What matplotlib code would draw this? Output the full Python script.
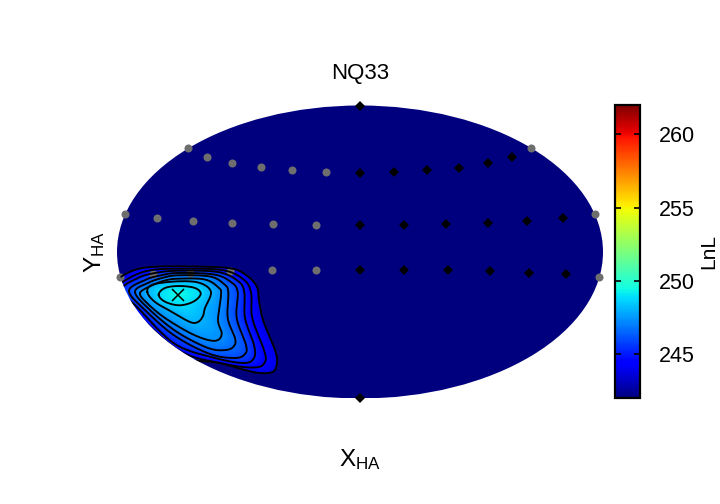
import numpy as np
import matplotlib
matplotlib.use('Agg')
import matplotlib.pyplot as plt
from matplotlib.patches import Ellipse

plt.rcParams['font.family'] = ['Liberation Sans', 'DejaVu Sans']
plt.rcParams['mathtext.default'] = 'regular'

# map extent, in chart units
half_w = 243
half_h = 146.5

# sampled positions
grey_x = [-172, -153, -128.3, -99.3, -68, -34.3, 171.3,
          -235, -203, -167, -128.3, -87, -44, 234.7,
          -239.7, -206.7, -170, -130, -88, -44.3, 239]
grey_y = [103.7, 95.3, 89, 84.7, 81.7, 80, 103.7,
          38, 34, 31.3, 29, 28, 27.3, 38,
          -25, -22.3, -20.7, -19.3, -18.3, -18, -25]
black_x = [0, 34, 67.3, 99, 127.7, 152.3,
           0, 43.7, 86.3, 128, 166.7, 202.7,
           0, 44, 87.7, 129.7, 169.3, 206.3,
           0, 0]
black_y = [79.3, 80, 81.7, 84.3, 89, 95.3,
           27, 27, 28, 29, 31.3, 34,
           -18, -18, -18.3, -19.3, -20.7, -22.3,
           146.3, -146.3]

# best location
best_x = -181.7
best_y = -42.7

# LnL contours, innermost first
levels = [248.8, 248.0, 247.3, 246.6, 245.9, 245.1, 244.4, 243.7]
peak = 249.5
floor = 242
c1 = [(-201.3, -42.7), (-195, -36), (-180.7, -34), (-165, -36), (-159.3, -42), (-166.7, -49.7), (-180.7, -53.3), (-195, -49.7)]
c2 = [(-212.7, -40), (-207, -32.5), (-181, -29.3), (-160, -31), (-149, -40), (-155, -56), (-157, -64), (-162, -70), (-170, -70), (-188, -60), (-205, -50)]
c3 = [(-220, -41), (-207, -33), (-195, -28.5), (-182, -26.7), (-155, -27.5), (-141, -36), (-139, -43), (-142, -68), (-138.3, -81), (-142, -88), (-152, -88), (-170, -81), (-195, -66), (-212, -52)]
c4 = [(-225, -40), (-212, -31), (-198, -26), (-182, -23.3), (-150, -24.5), (-136, -32), (-131.7, -40), (-132.3, -66), (-125, -86), (-126, -94), (-134, -98), (-152, -96), (-183, -80), (-210, -58)]
c5 = [(-231, -39), (-215, -28), (-200, -23.5), (-182, -21), (-146, -22.5), (-129, -30), (-122.3, -40), (-123.3, -66), (-114, -93), (-115, -102), (-125, -106), (-150, -102), (-185, -84), (-215, -58)]
c6 = [(-238, -38), (-222, -26), (-205, -21), (-182, -18.7), (-142, -20), (-122, -29), (-115.7, -40), (-115, -66), (-106, -93), (-106, -106), (-116, -111), (-145, -106), (-185, -92), (-220, -58)]
c7 = [(-245, -38), (-240, -32), (-225, -23), (-208, -18), (-182, -16.7), (-138, -18), (-117, -27), (-109, -40), (-107.7, -66), (-96, -98), (-95, -110), (-105, -115.5), (-135, -112), (-180, -99), (-225, -60)]
c8 = [(-250, -38), (-242, -27), (-228, -19), (-212, -15.3), (-182, -14.3), (-132, -16), (-114, -23), (-103, -35), (-101, -49), (-96.7, -69), (-85, -98), (-83, -111), (-87, -119.7), (-100, -121), (-115, -118), (-140, -111), (-180, -103), (-230, -62)]
contours = [c1, c2, c3, c4, c5, c6, c7, c8]

cbar_ticks = [245, 250, 255, 260]


def smooth(pts, n=14):
    # closed catmull-rom through the read points
    p = np.array(pts, dtype=float)
    t = np.linspace(0, 1, n, endpoint=False)[:, None]
    out = []
    for i in range(len(p)):
        p0, p1, p2, p3 = p[i - 1], p[i], p[(i + 1) % len(p)], p[(i + 2) % len(p)]
        out.append(0.5 * (2 * p1 + (p2 - p0) * t + (2 * p0 - 5 * p1 + 4 * p2 - p3) * t ** 2
                          + (3 * p1 - p0 - 3 * p2 + p3) * t ** 3))
    out = np.vstack(out)
    return np.vstack([out, out[:1]])


lines = [smooth(c) for c in contours]

# build the LnL field from the contours, radially around the peak
gx = np.linspace(-half_w, half_w, 972)
gy = np.linspace(-half_h, half_h, 586)
xx, yy = np.meshgrid(gx, gy)
rr = np.hypot(xx - best_x, yy - best_y)
aa = np.arctan2(yy - best_y, xx - best_x)

radii = [np.zeros_like(rr)]
for ln in lines:
    th = np.arctan2(ln[:, 1] - best_y, ln[:, 0] - best_x)
    r = np.hypot(ln[:, 0] - best_x, ln[:, 1] - best_y)
    order = np.argsort(th)
    radii.append(np.interp(aa, th[order], r[order], period=2 * np.pi))
vals = [peak] + levels

zz = np.full(rr.shape, float(floor))
for i in range(len(levels)):
    inner, outer = radii[i], radii[i + 1]
    mask = (rr >= inner) & (rr < outer)
    frac = (rr[mask] - inner[mask]) / (outer[mask] - inner[mask])
    zz[mask] = vals[i] + frac * (vals[i + 1] - vals[i])

fig = plt.figure(figsize=(7.2, 5.04), dpi=100)
ax = fig.add_axes([117 / 720, 1 - 398.5 / 504, 486 / 720, 293 / 504])

im = ax.imshow(zz, extent=[-half_w, half_w, -half_h, half_h], origin='lower', aspect='auto',
               cmap='jet', vmin=242, vmax=262, interpolation='nearest')
outline = Ellipse((0, 0), 2 * half_w, 2 * half_h, transform=ax.transData, fc='none', ec='none')
ax.add_patch(outline)
im.set_clip_path(outline)

ax.plot(grey_x, grey_y, 'o', color='#6e6e6e', ms=5.8, mew=0, clip_on=False, zorder=3)
ax.plot(black_x, black_y, 'D', color='black', ms=5.2, mew=0, clip_on=False, zorder=3)

for ln in lines:
    l, = ax.plot(ln[:, 0], ln[:, 1], color='black', lw=1.35, zorder=4)
    l.set_clip_path(outline)
ax.plot([best_x], [best_y], 'x', color='black', ms=8, mew=1.1, zorder=5)

ax.set_xlim(-half_w, half_w)
ax.set_ylim(-half_h, half_h)
ax.set_xticks([])
ax.set_yticks([])
for s in ax.spines.values():
    s.set_visible(False)
ax.set_title('NQ33', fontsize=16, pad=19)
ax.set_xlabel('$X_{HA}$', fontsize=17.5, labelpad=35)
ax.set_ylabel('$Y_{HA}$', fontsize=17.5, labelpad=7)

cax = fig.add_axes([615 / 720, 1 - 398 / 504, 24.5 / 720, 293 / 504])
cb = fig.colorbar(im, cax=cax, ticks=cbar_ticks)
cb.outline.set_linewidth(1.6)
cb.ax.tick_params(direction='in', left=True, right=True, length=4, width=1.2, labelsize=15.5, pad=14)
cb.set_label('LnL', fontsize=15, labelpad=3)

fig.savefig('out.png', dpi=100)
